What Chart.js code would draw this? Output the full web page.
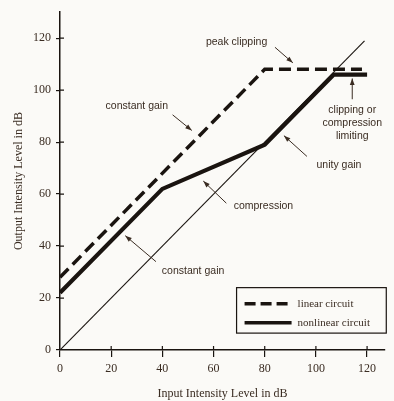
<!DOCTYPE html>
<html>
<head>
<meta charset="utf-8">
<script src="https://cdn.jsdelivr.net/npm/chart.js@4/dist/chart.umd.min.js"></script>
<style>
  body { margin: 0; background: #fbfaf7; }
  #wrap { width: 394px; height: 401px; position: relative; }
</style>
</head>
<body>
<div id="wrap"><canvas id="ioChart"></canvas></div>
<script>
// input level (dB) / output level (dB)
const linearX = [0, 80, 118];
const linearY = [28, 108, 108];
const nonlinearX = [0, 40, 80, 107, 120];
const nonlinearY = [22, 62, 79, 106, 106];
const unityX = [0, 119];
const unityY = [0, 119];
const tickValues = [0, 20, 40, 60, 80, 100, 120];

// text callouts: label lines, anchor (data units), arrow tail -> tip (data units)
const notes = [
  { lines: ["peak clipping"], at: [69, 118.6], from: [84, 116.5], to: [91, 110.5] },
  { lines: ["constant gain"], at: [30, 94], from: [44, 90.5], to: [51.5, 84.5] },
  { lines: ["clipping or", "compression", "limiting"], at: [114.2, 92.4], from: [114.2, 96.5], to: [114.2, 104.5] },
  { lines: ["unity gain"], at: [109, 71], from: [96.5, 74.5], to: [87.5, 82.5] },
  { lines: ["compression"], at: [79.5, 55.5], from: [65, 56.5], to: [56, 65] },
  { lines: ["constant gain"], at: [52, 30.5], from: [37.5, 34], to: [25.5, 44] }
];

const ink = "#1a1410";
const textInk = "#3a2c22";

const toPts = (xs, ys) => xs.map((x, i) => ({ x, y: ys[i] }));

const annot = {
  id: "annot",
  afterDatasetsDraw(chart) {
    const { ctx, scales: { x, y } } = chart;
    const px = v => x.getPixelForValue(v);
    const py = v => y.getPixelForValue(v);
    ctx.save();

    // inner half of the tick marks
    ctx.strokeStyle = ink;
    ctx.lineWidth = 1.2;
    tickValues.forEach(v => {
      if (v === 0) return;
      ctx.beginPath();
      ctx.moveTo(px(v), py(0));
      ctx.lineTo(px(v), py(0) - 4);
      ctx.moveTo(px(0), py(v));
      ctx.lineTo(px(0) + 4, py(v));
      ctx.stroke();
    });

    // callouts
    ctx.font = "10.5px 'Liberation Sans', sans-serif";
    ctx.fillStyle = textInk;
    ctx.textAlign = "center";
    ctx.textBaseline = "middle";
    notes.forEach(n => {
      n.lines.forEach((t, i) => ctx.fillText(t, px(n.at[0]), py(n.at[1]) + i * 13));
      const x1 = px(n.from[0]), y1 = py(n.from[1]);
      const x2 = px(n.to[0]), y2 = py(n.to[1]);
      const a = Math.atan2(y2 - y1, x2 - x1);
      ctx.strokeStyle = textInk;
      ctx.lineWidth = 1;
      ctx.beginPath();
      ctx.moveTo(x1, y1);
      ctx.lineTo(x2, y2);
      ctx.stroke();
      ctx.beginPath();
      ctx.moveTo(x2, y2);
      ctx.lineTo(x2 - 7 * Math.cos(a - 0.35), y2 - 7 * Math.sin(a - 0.35));
      ctx.lineTo(x2 - 7 * Math.cos(a + 0.35), y2 - 7 * Math.sin(a + 0.35));
      ctx.closePath();
      ctx.fill();
    });

    // legend box
    const bx = px(69), by = py(24), bw = px(127.5) - px(69), bh = py(6.5) - py(24);
    ctx.strokeStyle = ink;
    ctx.lineWidth = 1.2;
    ctx.strokeRect(bx, by, bw, bh);
    ctx.lineWidth = 3.5;
    ctx.setLineDash([11, 5]);
    ctx.beginPath();
    ctx.moveTo(bx + 8, by + 16);
    ctx.lineTo(bx + 53, by + 16);
    ctx.stroke();
    ctx.setLineDash([]);
    ctx.lineWidth = 3.5;
    ctx.beginPath();
    ctx.moveTo(bx + 8, by + 35);
    ctx.lineTo(bx + 55, by + 35);
    ctx.stroke();
    ctx.font = "11px 'Liberation Serif', serif";
    ctx.textAlign = "left";
    ctx.fillStyle = textInk;
    ctx.fillText("linear circuit", bx + 61, by + 16);
    ctx.fillText("nonlinear circuit", bx + 61, by + 35);

    ctx.restore();
  }
};

new Chart(document.getElementById("ioChart"), {
  type: "line",
  data: {
    datasets: [
      {
        label: "linear circuit",
        data: toPts(linearX, linearY),
        borderColor: ink,
        borderWidth: 3.5,
        borderDash: [12, 6],
        pointRadius: 0,
        tension: 0
      },
      {
        label: "nonlinear circuit",
        data: toPts(nonlinearX, nonlinearY),
        borderColor: ink,
        borderWidth: 4.2,
        pointRadius: 0,
        tension: 0
      },
      {
        label: "unity gain",
        data: toPts(unityX, unityY),
        borderColor: ink,
        borderWidth: 1.1,
        pointRadius: 0,
        tension: 0
      }
    ]
  },
  options: {
    responsive: true,
    maintainAspectRatio: false,
    animation: false,
    layout: { padding: { top: 4, right: 9, left: 0, bottom: 0 } },
    plugins: {
      legend: { display: false },
      tooltip: { enabled: false }
    },
    scales: {
      x: {
        type: "linear",
        min: 0,
        max: 127,
        afterFit: s => { s.height = 51; },
        afterBuildTicks: s => { s.ticks = tickValues.map(v => ({ value: v })); },
        grid: { drawOnChartArea: false, tickLength: 7, color: ink, lineWidth: 1.2 },
        border: { color: ink, width: 1.5 },
        ticks: { color: textInk, padding: 5, font: { family: "'Liberation Serif', serif", size: 12 } },
        title: {
          display: true,
          text: "Input Intensity Level in dB",
          color: textInk,
          font: { family: "'Liberation Serif', serif", size: 12 },
          padding: { top: 0, bottom: 0 }
        }
      },
      y: {
        type: "linear",
        min: 0,
        max: 130,
        afterFit: s => { s.width = 60; },
        afterBuildTicks: s => { s.ticks = tickValues.map(v => ({ value: v })); },
        grid: { drawOnChartArea: false, tickLength: 4, color: ink, lineWidth: 1.2 },
        border: { color: ink, width: 1.5 },
        ticks: { color: textInk, padding: 5, font: { family: "'Liberation Serif', serif", size: 12 } },
        title: {
          display: true,
          text: "Output Intensity Level in dB",
          color: textInk,
          font: { family: "'Liberation Serif', serif", size: 12 },
          padding: { top: 12, bottom: 0 }
        }
      }
    }
  },
  plugins: [annot]
});
</script>
</body>
</html>
